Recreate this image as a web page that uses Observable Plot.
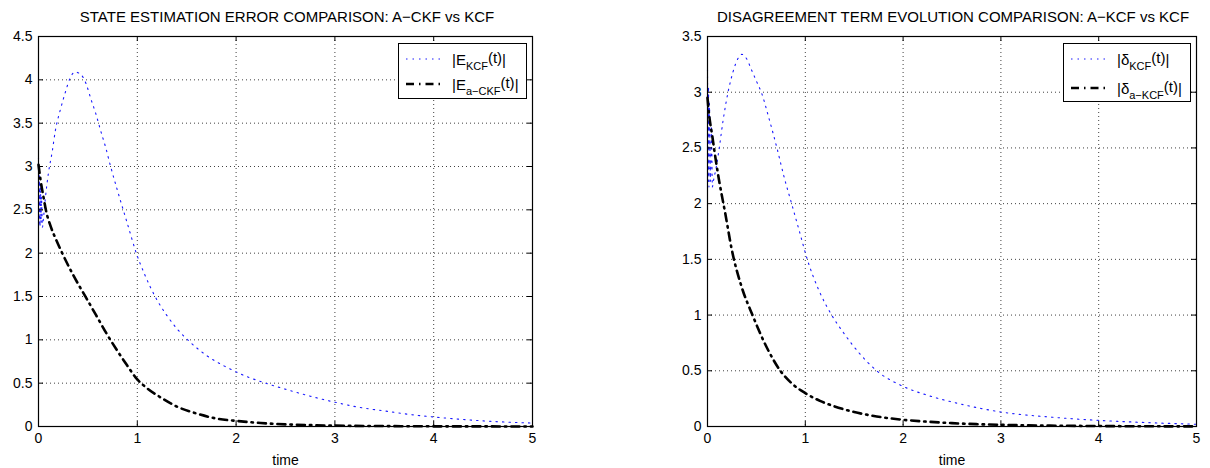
<!DOCTYPE html>
<html><head><meta charset="utf-8">
<script src="https://cdn.jsdelivr.net/npm/d3@7"></script>
<script src="https://cdn.jsdelivr.net/npm/@observablehq/plot@0.6"></script>
<style>
body{margin:0;background:#fff;font-family:"Liberation Sans",Arial,sans-serif;color:#000}
#wrap{position:relative;width:1210px;height:468px;overflow:hidden;background:#fff}
.panel{position:absolute;top:0;overflow:visible}
.title{position:absolute;top:8px;font-size:15px;line-height:17px;white-space:nowrap;transform:translateX(-50%)}
.legend{position:absolute;border:1px solid #000;background:#fff;font-size:15px;box-sizing:border-box}
.row{position:absolute;left:0;height:20px;display:flex;align-items:center;white-space:nowrap}
.row svg{margin-left:7px;margin-right:8px}
sub{font-size:11px;vertical-align:-5px;line-height:0}
.rs{position:relative;top:-2px}
</style>
</head><body>
<div id="wrap"></div>
<script>
// ---- data ----
const xTicks = [0, 1, 2, 3, 4, 5];
const yTicksLeft = [0, 0.5, 1, 1.5, 2, 2.5, 3, 3.5, 4, 4.5];
const yTicksRight = [0, 0.5, 1, 1.5, 2, 2.5, 3, 3.5];

const titleLeft = "STATE ESTIMATION ERROR COMPARISON: A\u2212CKF vs KCF";
const titleRight = "DISAGREEMENT TERM EVOLUTION COMPARISON: A\u2212KCF vs KCF";
const xLabel = "time";

// left panel: |E_KCF(t)|
const eKcfT = [0, 0.005, 0.01, 0.015, 0.02, 0.025, 0.03, 0.04, 0.05, 0.07, 0.1, 0.14, 0.17, 0.22, 0.27, 0.32, 0.37, 0.43, 0.48, 0.53, 0.58, 0.63, 0.68, 0.73, 0.8, 0.86, 0.9, 0.99, 1.08, 1.18, 1.3, 1.4, 1.51, 1.7, 1.91, 2.1, 2.3, 2.5, 2.75, 3.0, 3.25, 3.5, 3.75, 4.0, 4.25, 4.5, 4.75, 5.0];
const eKcfV = [3.1, 2.35, 2.95, 2.3, 2.8, 2.35, 2.65, 2.3, 2.4, 2.64, 2.92, 3.18, 3.41, 3.65, 3.85, 4.02, 4.09, 4.06, 3.96, 3.78, 3.61, 3.41, 3.22, 3.0, 2.72, 2.49, 2.34, 2.0, 1.74, 1.5, 1.28, 1.13, 1.0, 0.82, 0.68, 0.58, 0.5, 0.43, 0.35, 0.28, 0.22, 0.18, 0.14, 0.11, 0.085, 0.065, 0.05, 0.04];
// left panel: |E_a-CKF(t)|
const eAckfT = [0, 0.02, 0.05, 0.08, 0.12, 0.18, 0.24, 0.35, 0.48, 0.58, 0.69, 0.8, 0.9, 0.98, 1.1, 1.23, 1.4, 1.6, 1.81, 2.0, 2.25, 2.5, 2.75, 3.0, 3.5, 4.0, 4.5, 5.0];
const eAckfV = [3.02, 2.85, 2.65, 2.47, 2.32, 2.15, 2.0, 1.75, 1.49, 1.29, 1.07, 0.87, 0.7, 0.57, 0.44, 0.34, 0.23, 0.15, 0.09, 0.065, 0.04, 0.025, 0.016, 0.01, 0.005, 0.002, 0.001, 0.0005];

// right panel: |delta_KCF(t)|
const dKcfT = [0, 0.005, 0.01, 0.015, 0.02, 0.03, 0.04, 0.05, 0.06, 0.09, 0.12, 0.16, 0.21, 0.26, 0.31, 0.35, 0.4, 0.45, 0.5, 0.55, 0.63, 0.71, 0.78, 0.86, 0.94, 1.02, 1.14, 1.27, 1.4, 1.55, 1.73, 2.0, 2.25, 2.5, 2.75, 3.0, 3.5, 4.0, 4.5, 5.0];
const dKcfV = [3.2, 2.2, 3.05, 2.15, 2.9, 2.2, 2.7, 2.15, 2.2, 2.33, 2.5, 2.75, 3.0, 3.18, 3.3, 3.34, 3.3, 3.2, 3.1, 3.0, 2.76, 2.5, 2.25, 2.0, 1.75, 1.5, 1.22, 1.0, 0.83, 0.66, 0.5, 0.36, 0.28, 0.22, 0.17, 0.13, 0.085, 0.055, 0.035, 0.02];
// right panel: |delta_a-KCF(t)|
const dAkcfT = [0, 0.01, 0.05, 0.09, 0.12, 0.18, 0.25, 0.35, 0.46, 0.6, 0.745, 0.87, 1.0, 1.15, 1.3, 1.5, 1.73, 2.0, 2.25, 2.5, 2.75, 3.0, 3.5, 4.0, 4.5, 5.0];
const dAkcfV = [2.95, 2.85, 2.6, 2.36, 2.2, 1.92, 1.58, 1.25, 1.0, 0.72, 0.5, 0.38, 0.3, 0.23, 0.18, 0.13, 0.09, 0.06, 0.043, 0.03, 0.021, 0.015, 0.008, 0.004, 0.002, 0.001];

// ---- styles ----
const BLUE = "#1a1aff";
const dotStyle = {stroke: BLUE, strokeWidth: 1.1, strokeDasharray: "1.5,5"};
const dashDotStyle = {stroke: "#000", strokeWidth: 2.6, strokeDasharray: "8,5,1.5,5"};

const zip = (t, v) => t.map((x, i) => ({t: x, v: v[i]}));

function panel({left, width, marginLeft, marginRight, yDomain, yTicks, series}) {
  const H = 468, mt = 36, mb = 42;
  const innerW = width - marginLeft - marginRight;
  const innerH = H - mt - mb;
  const tk = 5;
  const chart = Plot.plot({
    width, height: H, marginLeft, marginRight, marginTop: mt, marginBottom: mb,
    style: {fontFamily: "'Liberation Sans', Arial, sans-serif", fontSize: "14px", color: "#000", background: "#fff", overflow: "visible"},
    x: {domain: [0, 5]},
    y: {domain: yDomain},
    marks: [
      Plot.gridX(xTicks, {stroke: "#000", strokeOpacity: 0.75, strokeDasharray: "1,3"}),
      Plot.gridY(yTicks, {stroke: "#000", strokeOpacity: 0.75, strokeDasharray: "1,3"}),
      ...series.map(s => Plot.line(zip(s.t, s.v), {x: "t", y: "v", curve: "monotone-x", ...s.style})),
      Plot.ruleX(xTicks, {x: d => d, stroke: "#000", insetTop: innerH - tk}),
      Plot.ruleX(xTicks, {x: d => d, stroke: "#000", insetBottom: innerH - tk}),
      Plot.ruleY(yTicks, {y: d => d, stroke: "#000", insetRight: innerW - tk}),
      Plot.ruleY(yTicks, {y: d => d, stroke: "#000", insetLeft: innerW - tk}),
      Plot.frame({stroke: "#000", strokeWidth: 1.2}),
      Plot.axisX(xTicks, {anchor: "bottom", tickSize: 0, tickPadding: 7, tickFormat: d => String(d), label: xLabel, labelAnchor: "center", labelOffset: 38, labelArrow: "none", fontSize: 14}),
      Plot.axisY(yTicks, {anchor: "left", tickSize: 0, tickPadding: 6, tickFormat: d => String(d), label: null, fontSize: 14})
    ]
  });
  chart.classList.add("panel");
  chart.style.left = left + "px";
  return chart;
}

const wrap = document.getElementById("wrap");
wrap.appendChild(panel({
  left: 0, width: 605, marginLeft: 38, marginRight: 73,
  yDomain: [0, 4.5], yTicks: yTicksLeft,
  series: [{t: eKcfT, v: eKcfV, style: dotStyle}, {t: eAckfT, v: eAckfV, style: dashDotStyle}]
}));
wrap.appendChild(panel({
  left: 605, width: 605, marginLeft: 102, marginRight: 14,
  yDomain: [0, 3.5], yTicks: yTicksRight,
  series: [{t: dKcfT, v: dKcfV, style: dotStyle}, {t: dAkcfT, v: dAkcfV, style: dashDotStyle}]
}));

function addTitle(text, cx) {
  const d = document.createElement("div");
  d.className = "title"; d.textContent = text; d.style.left = cx + "px";
  wrap.appendChild(d);
}
addTitle(titleLeft, 287);
addTitle(titleRight, 953);

function sample(style) {
  return `<svg width="38" height="8"><line x1="0" x2="38" y1="4" y2="4" stroke="${style.stroke}" stroke-width="${style.strokeWidth}" stroke-dasharray="${style.strokeDasharray}"/></svg>`;
}
function addLegend(left, top, width, height, items, gap) {
  const d = document.createElement("div");
  d.className = "legend";
  Object.assign(d.style, {left: left + "px", top: top + "px", width: width + "px", height: height + "px"});
  items.forEach((it, i) => {
    const r = document.createElement("div");
    r.className = "row"; r.style.top = (5 + i * gap) + "px";
    r.innerHTML = sample(it.style) + `<span>|${it.sym}<sub>${it.sub}</sub><span class="rs">(t)</span>|</span>`;
    d.appendChild(r);
  });
  wrap.appendChild(d);
}
addLegend(398, 43, 129, 56, [
  {sym: "E", sub: "KCF", style: dotStyle},
  {sym: "E", sub: "a\u2212CKF", style: dashDotStyle}
], 25);
addLegend(1063, 43, 128, 59, [
  {sym: "\u03b4", sub: "KCF", style: dotStyle},
  {sym: "\u03b4", sub: "a\u2212KCF", style: dashDotStyle}
], 29);
</script>
</body></html>
